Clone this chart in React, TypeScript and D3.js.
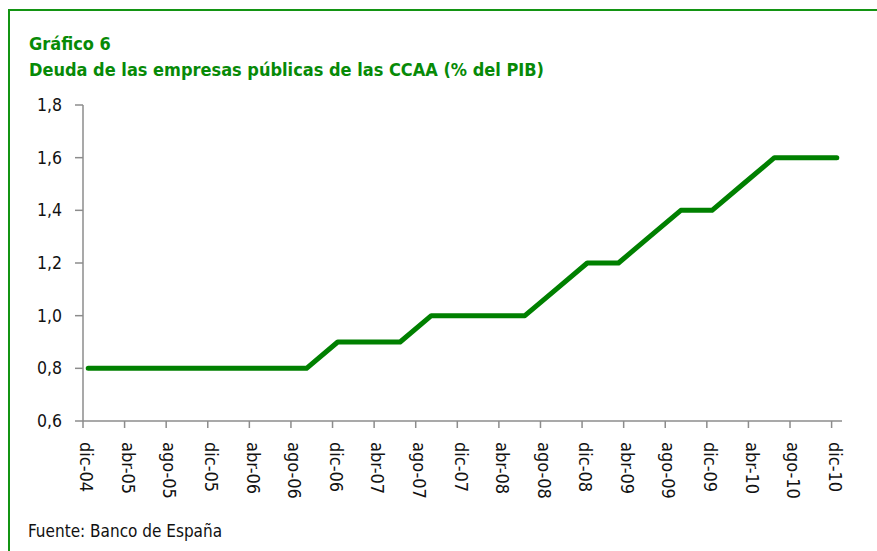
import React from 'react';
import * as d3 from 'd3';

const width = 877;
const height = 551;
const margin = { top: 105, right: 35, bottom: 130, left: 83 };

// month categories dic-04 .. dic-10
const monthNames = ['ene', 'feb', 'mar', 'abr', 'may', 'jun', 'jul', 'ago', 'sep', 'oct', 'nov', 'dic'];
const categories: string[] = [];
for (let i = 0; i < 73; i++) {
  const m = (11 + i) % 12;
  const y = 4 + Math.floor((11 + i) / 12);
  categories.push(`${monthNames[m]}-${String(y).padStart(2, '0')}`);
}

// quarterly observations (% del PIB)
const obsDates = [
  'dic-04', 'mar-05', 'jun-05', 'sep-05', 'dic-05', 'mar-06', 'jun-06', 'sep-06',
  'dic-06', 'mar-07', 'jun-07', 'sep-07', 'dic-07', 'mar-08', 'jun-08', 'sep-08',
  'dic-08', 'mar-09', 'jun-09', 'sep-09', 'dic-09', 'mar-10', 'jun-10', 'sep-10', 'dic-10',
];
const obsValues = [
  0.8, 0.8, 0.8, 0.8, 0.8, 0.8, 0.8, 0.8,
  0.9, 0.9, 0.9, 1.0, 1.0, 1.0, 1.0, 1.1,
  1.2, 1.2, 1.3, 1.4, 1.4, 1.5, 1.6, 1.6, 1.6,
];
const yTicks = [0.6, 0.8, 1.0, 1.2, 1.4, 1.6, 1.8];

const condensed = '"Liberation Sans Narrow", "Arial Narrow", "DejaVu Sans Condensed", sans-serif';
const green = '#008000';
const axisGray = '#8c8c8c';

function App() {
  const x = d3.scaleBand<string>()
    .domain(categories)
    .range([margin.left, 842])
    .paddingInner(0).paddingOuter(0);
  const y = d3.scaleLinear().domain([0.6, 1.8]).range([height - margin.bottom, margin.top]);
  const bw = x.bandwidth();
  const cx = (c: string) => (x(c) as number) + bw / 2;

  const data = obsDates.map((d, i) => ({ d, v: obsValues[i] }));
  const line = d3.line<{ d: string; v: number }>().x(p => cx(p.d)).y(p => y(p.v));

  const labelCats = categories.filter((_, i) => i % 4 === 0);
  const x0 = margin.left;
  const x1 = (x(categories[categories.length - 1]) as number) + bw;
  const y0 = y(0.6);
  const fmt = (v: number) => v.toFixed(1).replace('.', ',');

  return (
    <svg width={width} height={height} style={{ position: 'absolute', left: 0, top: 0, background: '#fff' }}>
      {/* frame */}
      <line x1={9} x2={width} y1={10} y2={10} stroke="#139413" strokeWidth={2} />
      <line x1={9} x2={9} y1={9} y2={height} stroke="#139413" strokeWidth={2} />

      <text x={29} y={50} fill="#078a07" fontFamily={condensed} fontWeight="bold" fontSize={18}>Gráfico 6</text>
      <text x={29} y={76} fill="#078a07" fontFamily={condensed} fontWeight="bold" fontSize={18}>
        Deuda de las empresas públicas de las CCAA (% del PIB)
      </text>

      {/* y axis */}
      <line x1={x0} x2={x0} y1={y(1.8)} y2={y0} stroke={axisGray} strokeWidth={1.5} />
      {yTicks.map(t => (
        <g key={t}>
          <line x1={x0 - 8} x2={x0} y1={y(t)} y2={y(t)} stroke={axisGray} strokeWidth={1.5} />
          <text x={62} y={y(t)} dy="0.35em" textAnchor="end" fontFamily={condensed} fontSize={17.5} fill="#111">{fmt(t)}</text>
        </g>
      ))}

      {/* x axis */}
      <line x1={x0} x2={x1} y1={y0} y2={y0} stroke={axisGray} strokeWidth={1.5} />
      {labelCats.map(c => (
        <g key={c}>
          <line x1={x(c) as number} x2={x(c) as number} y1={y0} y2={y0 + 7} stroke={axisGray} strokeWidth={1.5} />
          <text transform={`translate(${cx(c) - 8},${y0 + 21}) rotate(90)`} fontFamily={condensed} fontSize={18} fill="#111">{c}</text>
        </g>
      ))}

      <path d={line(data) ?? ''} fill="none" stroke={green} strokeWidth={5} strokeLinejoin="round" strokeLinecap="round" />

      <text x={28} y={537} fontFamily={condensed} fontSize={17} fill="#111">Fuente: Banco de España</text>
    </svg>
  );
}

export default App;
